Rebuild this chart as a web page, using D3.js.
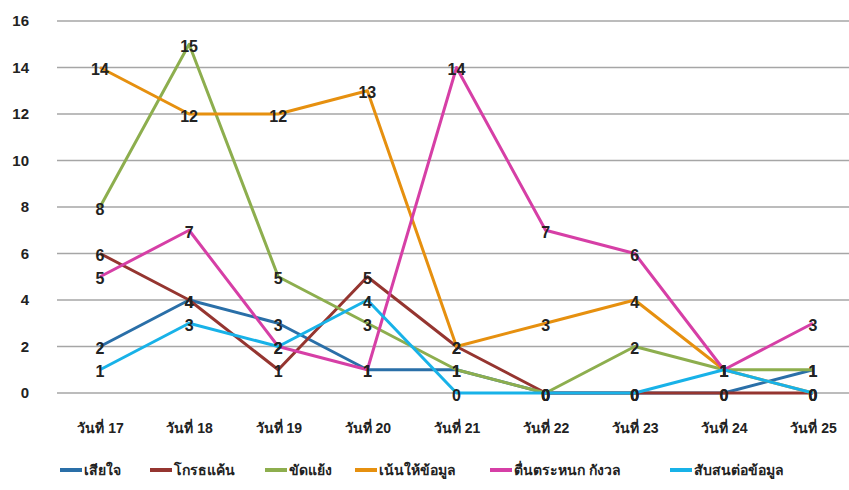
<!DOCTYPE html>
<html><head><meta charset="utf-8">
<script src="https://cdn.jsdelivr.net/npm/d3@7"></script>
<style>body{margin:0;background:#fff}svg{display:block}</style>
</head><body><svg id="c" width="849" height="490"></svg>
<script>
const categories = ["วันที่ 17","วันที่ 18","วันที่ 19","วันที่ 20","วันที่ 21","วันที่ 22","วันที่ 23","วันที่ 24","วันที่ 25"];
const seriesNames = ["เสียใจ","โกรธแค้น","ขัดแย้ง","เน้นให้ข้อมูล","ตื่นตระหนก กังวล","สับสนต่อข้อมูล"];
const sadValues      = [2,4,3,1,1,0,0,0,1];
const angryValues    = [6,4,1,5,2,0,0,0,0];
const conflictValues = [8,15,5,3,1,0,2,1,1];
const infoValues     = [14,12,12,13,2,3,4,1,0];
const panicValues    = [5,7,2,1,14,7,6,1,3];
const confusedValues = [1,3,2,4,0,0,0,1,0];
const yTicks = [0,2,4,6,8,10,12,14,16];
const colors = ["#2A6FA8","#953530","#8DAE4E","#E6900F","#D63FA6","#18B2E8"];

const allValues = [sadValues,angryValues,conflictValues,infoValues,panicValues,confusedValues];
const series = seriesNames.map((n,i)=>({name:n,values:allValues[i],color:colors[i]}));

const svg = d3.select("#c");
const font = "'Liberation Sans Narrow','Liberation Sans',Arial,sans-serif";
const x = d3.scalePoint().domain(categories).range([100,813]);
const y = d3.scaleLinear().domain([0,16]).range([393,21]);

// gridlines
svg.append("g").selectAll("line").data(yTicks).join("line")
  .attr("x1",57).attr("x2",849).attr("y1",d=>y(d)).attr("y2",d=>y(d))
  .attr("stroke","#A6A6A6").attr("stroke-width",1.5);

// y labels
const yAxis = d3.axisLeft(y).tickValues(yTicks).tickSize(0).tickPadding(0);
const ya = svg.append("g").attr("transform","translate(29,0)").call(yAxis);
ya.select(".domain").remove();
ya.selectAll("text").attr("font-family",font).attr("font-size",15).attr("font-weight","bold").attr("fill","#222");

// x labels
const xAxis = d3.axisBottom(x).tickSize(0).tickPadding(0);
const xa = svg.append("g").attr("transform","translate(0,423)").call(xAxis);
xa.select(".domain").remove();
xa.selectAll("text").attr("font-family",font).attr("font-size",14).attr("font-weight","bold").attr("fill","#222");

// lines
const line = d3.line().x((d,i)=>x(categories[i])).y(d=>y(d));
svg.append("g").selectAll("path").data(series).join("path")
  .attr("d",d=>line(d.values)).attr("fill","none")
  .attr("stroke",d=>d.color).attr("stroke-width",3).attr("stroke-linejoin","round");

// data labels
const lg = svg.append("g");
series.forEach(s=>{
  lg.selectAll(null).data(s.values).join("text")
    .attr("x",(d,i)=>x(categories[i])).attr("y",d=>y(d)+2)
    .attr("text-anchor","middle").attr("dominant-baseline","central")
    .attr("font-family",font).attr("font-size",16).attr("font-weight","bold")
    .attr("fill","#222").text(d=>d);
});

// legend
const legendX = [60,150,265,355,490,670];
const leg = svg.append("g").selectAll("g").data(series).join("g")
  .attr("transform",(d,i)=>`translate(${legendX[i]},470)`);
leg.append("line").attr("x1",0).attr("x2",22).attr("y1",0).attr("y2",0)
  .attr("stroke",d=>d.color).attr("stroke-width",4);
leg.append("text").attr("x",24).attr("y",0).attr("dominant-baseline","central")
  .attr("font-family",font).attr("font-size",14).attr("font-weight","bold").attr("fill","#222")
  .text(d=>d.name);
</script></body></html>
